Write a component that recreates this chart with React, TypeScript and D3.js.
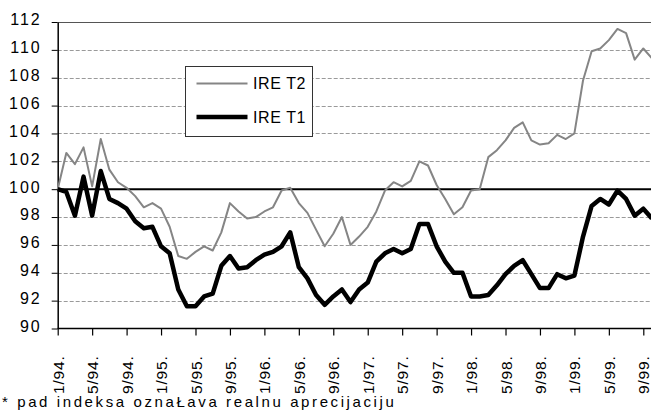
import * as d3 from 'd3';
import { useEffect, useRef } from 'react';

// monthly index values, 1/94. - 10/99.
const ireT2 = [
  100, 102.6, 101.8, 103.0, 100.2, 103.6, 101.4, 100.5, 100.1, 99.5, 98.7, 99.0,
  98.6, 97.3, 95.2, 95.0, 95.5, 95.9, 95.6, 96.9, 99.0, 98.4, 97.9, 98.0,
  98.4, 98.7, 99.9, 100.1, 99.0, 98.3, 97.1, 95.9, 96.8, 98.0, 96.0, 96.6,
  97.3, 98.4, 99.9, 100.5, 100.2, 100.6, 102.0, 101.7, 100.3, 99.3, 98.2, 98.7,
  99.9, 100.0, 102.3, 102.8, 103.5, 104.4, 104.8, 103.5, 103.2, 103.3, 103.9, 103.6,
  104.0, 107.8, 109.9, 110.1, 110.7, 111.5, 111.2, 109.3, 110.1, 109.4,
];
const ireT1 = [
  100, 99.8, 98.1, 100.9, 98.1, 101.3, 99.3, 99.0, 98.6, 97.7, 97.2, 97.3,
  95.9, 95.4, 92.8, 91.6, 91.6, 92.3, 92.5, 94.5, 95.2, 94.3, 94.4, 94.9,
  95.3, 95.5, 95.9, 96.9, 94.4, 93.6, 92.4, 91.7, 92.3, 92.8, 91.9, 92.8,
  93.3, 94.8, 95.4, 95.7, 95.4, 95.7, 97.5, 97.5, 95.9, 94.8, 94.0, 94.0,
  92.3, 92.3, 92.4, 93.1, 93.9, 94.5, 94.9, 93.9, 92.9, 92.9, 93.9, 93.6,
  93.8, 96.6, 98.8, 99.3, 98.9, 99.9, 99.3, 98.1, 98.6, 97.9,
];
const tickLabels = [
  '1/94.', '5/94.', '9/94.', '1/95.', '5/95.', '9/95.', '1/96.', '5/96.', '9/96.',
  '1/97.', '5/97.', '9/97.', '1/98.', '5/98.', '9/98.', '1/99.', '5/99.', '9/99.',
];
const yTicks = [90, 92, 94, 96, 98, 100, 102, 104, 106, 108, 110, 112];
const legendItems = [
  { name: 'IRE T2', color: '#858585', width: 2 },
  { name: 'IRE T1', color: '#000000', width: 4.5 },
];
const footnote = '* pad indeksa oznaŁava realnu aprecijaciju';

const App = () => {
  const ref = useRef<SVGSVGElement>(null);
  const width = 651;
  const height = 413;

  useEffect(() => {
    const svg = d3.select(ref.current);
    svg.selectAll('*').remove();
    const font = 'Liberation Sans, Arial, sans-serif';

    const x = d3.scaleLinear().domain([0, 68]).range([57.7, 643.3]);
    const y = d3.scaleLinear().domain([90, 112]).range([328.5, 22]);
    const left = x(0);
    const right = width;

    // grid
    svg.append('g')
      .selectAll('line')
      .data(yTicks.filter((d) => d !== 90))
      .enter()
      .append('line')
      .attr('x1', left)
      .attr('x2', right)
      .attr('y1', (d) => Math.round(y(d)) + 0.5)
      .attr('y2', (d) => Math.round(y(d)) + 0.5)
      .attr('stroke', (d) => (d === 112 ? '#555' : '#9a9a9a'))
      .attr('stroke-dasharray', (d) => (d === 112 ? null : '4,2'))
      .attr('stroke-width', 1);

    // y axis
    const yAxis = svg.append('g')
      .attr('transform', 'translate(' + left + ',0)')
      .call(d3.axisLeft(y).tickValues(yTicks).tickSize(6).tickSizeOuter(0).tickFormat(d3.format('d')));
    yAxis.select('.domain').attr('stroke', '#000').attr('stroke-width', 1.5);
    yAxis.selectAll('.tick line').attr('stroke', '#000');
    yAxis.selectAll('.tick text')
      .attr('x', -16)
      .attr('dy', '0.18em')
      .attr('fill', '#000')
      .attr('font-family', font)
      .attr('font-size', 16)
      .attr('letter-spacing', 2);

    // reference line at 100
    svg.append('line')
      .attr('x1', left)
      .attr('x2', right)
      .attr('y1', y(100))
      .attr('y2', y(100))
      .attr('stroke', '#000')
      .attr('stroke-width', 2);

    // x axis
    const xAxis = svg.append('g')
      .attr('transform', 'translate(0,' + y(90) + ')')
      .call(
        d3.axisBottom(x)
          .tickValues(tickLabels.map((_, i) => i * 4))
          .tickSize(7)
          .tickSizeOuter(0)
          .tickFormat((d, i) => tickLabels[i])
      );
    xAxis.select('.domain').attr('d', 'M' + left + ',0H' + right).attr('stroke', '#000').attr('stroke-width', 1.5);
    xAxis.selectAll('.tick line').attr('stroke', '#000').attr('stroke-width', 1.2);
    xAxis.selectAll('.tick text')
      .attr('transform', 'translate(0,27) rotate(-90)')
      .attr('x', 0)
      .attr('y', 0)
      .attr('dy', '0.36em')
      .attr('text-anchor', 'end')
      .attr('fill', '#000')
      .attr('font-family', font)
      .attr('font-size', 15.5)
      .attr('letter-spacing', 0.8);

    // series
    const line = d3.line<number>()
      .x((d, i) => x(i))
      .y((d) => y(d));

    svg.append('path')
      .datum(ireT2)
      .attr('d', line)
      .attr('fill', 'none')
      .attr('stroke', legendItems[0].color)
      .attr('stroke-width', legendItems[0].width)
      .attr('stroke-linejoin', 'round');

    svg.append('path')
      .datum(ireT1)
      .attr('d', line)
      .attr('fill', 'none')
      .attr('stroke', legendItems[1].color)
      .attr('stroke-width', legendItems[1].width)
      .attr('stroke-linejoin', 'round');

    // legend
    const legend = svg.append('g').attr('transform', 'translate(185.5,66.5)');
    legend.append('rect')
      .attr('width', 127)
      .attr('height', 70)
      .attr('fill', '#fff')
      .attr('stroke', '#333')
      .attr('stroke-width', 1);
    const item = legend.selectAll('g.item')
      .data(legendItems)
      .enter()
      .append('g')
      .attr('class', 'item')
      .attr('transform', (d, i) => 'translate(0,' + (17 + i * 33.5) + ')');
    item.append('line')
      .attr('x1', 11)
      .attr('x2', 62)
      .attr('stroke', (d) => d.color)
      .attr('stroke-width', (d) => d.width);
    item.append('text')
      .attr('x', 67.5)
      .attr('dy', '0.36em')
      .attr('font-family', font)
      .attr('font-size', 16)
      .attr('letter-spacing', 0.6)
      .attr('fill', '#000')
      .text((d) => d.name);

    // footnote
    svg.append('text')
      .attr('x', 2)
      .attr('y', 407)
      .attr('font-family', font)
      .attr('font-size', 15)
      .attr('letter-spacing', 2.6)
      .attr('fill', '#000')
      .text(footnote);
  }, []);

  return (
    <div style={{ position: 'absolute', left: 0, top: 0 }}>
      <svg ref={ref} width={width} height={height} style={{ display: 'block', background: '#fff' }}></svg>
    </div>
  );
};

export default App;
